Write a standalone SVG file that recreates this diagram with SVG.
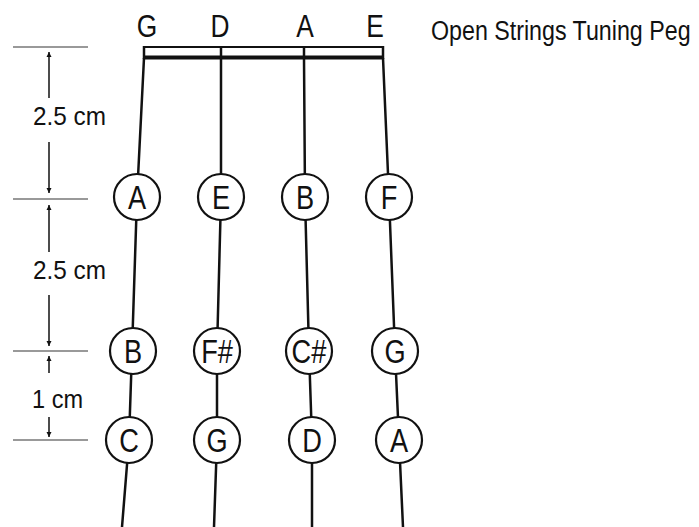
<svg xmlns="http://www.w3.org/2000/svg" width="699" height="527" viewBox="0 0 699 527">
  <style>
    text { font-family: "Liberation Sans", Arial, sans-serif; fill: #111; }
    .note { font-size: 34px; text-anchor: middle; transform-box: fill-box; transform-origin: center; transform: scaleX(0.8); }
    .open { font-size: 31px; text-anchor: middle; transform-box: fill-box; transform-origin: center; transform: scaleX(0.85); }
    .lbl { font-size: 26px; }
    .str { stroke: #111; stroke-width: 2.5; fill: none; }
    .fret circle { fill: #fff; stroke: #111; stroke-width: 2.2; }
    .tick { stroke: #777; stroke-width: 1.5; }
    .dim { stroke: #111; stroke-width: 1.5; fill: none; }
  </style>
  <defs>
    <marker id="ah" viewBox="0 0 10 10" refX="10" refY="5" markerWidth="5" markerHeight="8" markerUnits="userSpaceOnUse" orient="auto">
      <path d="M0,0 L10,5 L0,10 z" fill="#111"/>
    </marker>
  </defs>

  <!-- strings -->
  <g id="connectors">
    <polyline class="str" points="144,58 137,197 132,351 129,440 122,527"/>
    <polyline class="str" points="221,58 221,197 217,351 217,440 214,527"/>
    <polyline class="str" points="304,58 305,197 309,351 312,440 312,527"/>
    <polyline class="str" points="383,58 389,197 395,351 399,440 403,527"/>
  </g>

  <!-- nut / tuning peg -->
  <g id="nut">
    <line x1="143" y1="47" x2="383" y2="47" stroke="#111" stroke-width="2"/>
    <line x1="143" y1="57.5" x2="383" y2="57.5" stroke="#111" stroke-width="4"/>
    <line x1="144" y1="46" x2="144" y2="59" stroke="#111" stroke-width="2.5"/>
    <line x1="221" y1="46" x2="221" y2="59" stroke="#111" stroke-width="2.5"/>
    <line x1="304" y1="46" x2="304" y2="59" stroke="#111" stroke-width="2.5"/>
    <line x1="383" y1="46" x2="383" y2="59" stroke="#111" stroke-width="2.5"/>
  </g>

  <g id="open-strings">
    <text class="open" x="147" y="37">G</text>
    <text class="open" x="220" y="37">D</text>
    <text class="open" x="305" y="37">A</text>
    <text class="open" x="375" y="37">E</text>
  </g>

  <text id="peg-label" transform="translate(431,40) scale(0.83,1)" x="0" y="0" font-size="28">Open Strings Tuning Peg</text>

  <!-- first position -->
  <g id="row1" class="fret">
    <g id="n-A1"><circle cx="137" cy="197" r="23"/><text class="note" x="137" y="209">A</text></g>
    <g id="n-E1"><circle cx="221" cy="197" r="23"/><text class="note" x="221" y="209">E</text></g>
    <g id="n-B1"><circle cx="305" cy="197" r="23"/><text class="note" x="305" y="209">B</text></g>
    <g id="n-F1"><circle cx="389" cy="197" r="23"/><text class="note" x="389" y="209">F</text></g>
  </g>

  <!-- second position -->
  <g id="row2" class="fret">
    <g id="n-B2"><circle cx="133" cy="351" r="23"/><text class="note" x="133" y="363">B</text></g>
    <g id="n-Fs2"><circle cx="217" cy="351" r="23"/><text class="note" x="217" y="363">F#</text></g>
    <g id="n-Cs2"><circle cx="309" cy="351" r="23"/><text class="note" x="309" y="363">C#</text></g>
    <g id="n-G2"><circle cx="395" cy="351" r="23"/><text class="note" x="395" y="363">G</text></g>
  </g>

  <!-- third position -->
  <g id="row3" class="fret">
    <g id="n-C3"><circle cx="129" cy="440" r="23"/><text class="note" x="129" y="452">C</text></g>
    <g id="n-G3"><circle cx="217" cy="440" r="23"/><text class="note" x="217" y="452">G</text></g>
    <g id="n-D3"><circle cx="312" cy="440" r="23"/><text class="note" x="312" y="452">D</text></g>
    <g id="n-A3"><circle cx="399" cy="440" r="23"/><text class="note" x="399" y="452">A</text></g>
  </g>

  <!-- distance scale -->
  <g id="scale">
    <line class="tick" x1="13" y1="47" x2="88" y2="47"/>
    <line class="tick" x1="13" y1="199" x2="88" y2="199"/>
    <line class="tick" x1="13" y1="351" x2="88" y2="351"/>
    <line class="tick" x1="13" y1="440" x2="88" y2="440"/>

    <line class="dim" x1="49" y1="98" x2="49" y2="52" marker-end="url(#ah)"/>
    <line class="dim" x1="49" y1="142" x2="49" y2="193" marker-end="url(#ah)"/>
    <text class="lbl" x="33" y="125" textLength="73" lengthAdjust="spacingAndGlyphs">2.5 cm</text>

    <line class="dim" x1="49" y1="252" x2="49" y2="205" marker-end="url(#ah)"/>
    <line class="dim" x1="49" y1="295" x2="49" y2="346" marker-end="url(#ah)"/>
    <text class="lbl" x="33" y="279" textLength="73" lengthAdjust="spacingAndGlyphs">2.5 cm</text>

    <line class="dim" x1="49" y1="373" x2="49" y2="356" marker-end="url(#ah)"/>
    <line class="dim" x1="49" y1="417" x2="49" y2="437" marker-end="url(#ah)"/>
    <text class="lbl" x="32" y="408" textLength="51" lengthAdjust="spacingAndGlyphs">1 cm</text>
  </g>
</svg>
